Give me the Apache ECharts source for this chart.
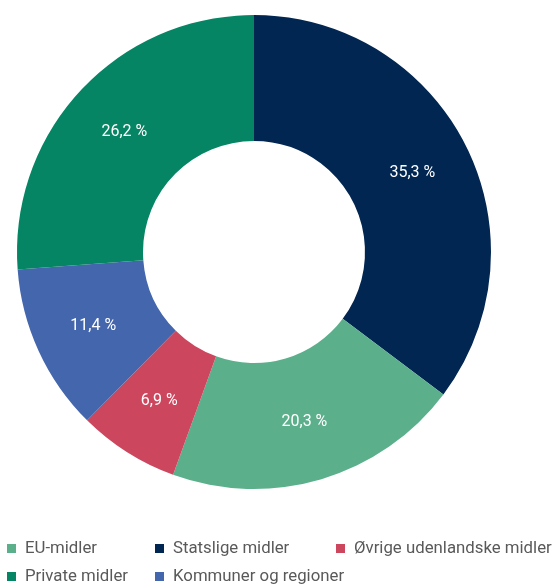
<!DOCTYPE html>
<html>
	<head>
		<meta charset="utf-8">
		<title>Finansiering</title>
		<script src="https://cdn.jsdelivr.net/npm/echarts@6/dist/echarts.min.js"></script>
		<style>
			html, body { margin: 0; padding: 0; background: #fff; }
			#main { width: 552px; height: 584px; }
		</style>
	</head>
	<body>
		<div id="main"></div>
		<script>
			// data, in drawing order (clockwise from top)
			var names = ['Statslige midler', 'EU-midler', 'Øvrige udenlandske midler', 'Kommuner og regioner', 'Private midler'];
			var values = [35.3, 20.3, 6.9, 11.4, 26.2];
			var colors = ['#002651', '#5bb08b', '#cc465e', '#4466ad', '#058563'];

			// legend order as shown (row by row)
			var legendNames = ['EU-midler', 'Statslige midler', 'Øvrige udenlandske midler', 'Private midler', 'Kommuner og regioner'];

			var pieData = [];
			for (var i = 0; i < names.length; i++) {
				pieData.push({ name: names[i], value: values[i], itemStyle: { color: colors[i] } });
			}

			// one legend per item so the columns line up
			var colLeft = [7, 155, 336];
			var rowTop = [540, 568];
			var legends = [];
			for (var k = 0; k < legendNames.length; k++) {
				legends.push({
					left: colLeft[k % 3],
					top: rowTop[Math.floor(k / 3)],
					padding: 0,
					itemWidth: 9,
					itemHeight: 9,
					icon: 'rect',
					selectedMode: false,
					textStyle: {
						fontFamily: 'Roboto',
						fontSize: 16.8,
						color: '#595959',
						padding: [0, 0, 0, 4]
					},
					data: [legendNames[k]]
				});
			}

			var myChart = echarts.init(document.getElementById('main'));
			myChart.setOption({
				animation: false,
				legend: legends,
				series: [{
					type: 'pie',
					center: [254, 252],
					radius: [111, 237],
					startAngle: 90,
					clockwise: true,
					avoidLabelOverlap: false,
					label: {
						show: true,
						position: 'inside',
						color: '#fff',
						fontFamily: 'Roboto',
						fontSize: 16,
						formatter: function (p) {
							return p.value.toFixed(1).replace('.', ',') + ' %';
						}
					},
					labelLine: { show: false },
					emphasis: { disabled: true },
					data: pieData
				}]
			});
		</script>
	</body>
</html>
